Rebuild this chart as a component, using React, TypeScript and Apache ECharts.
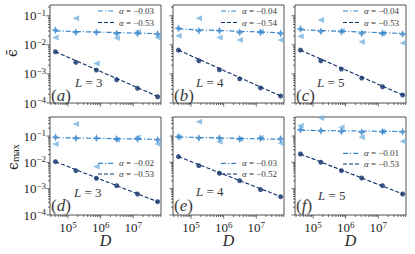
import React, { useEffect, useRef } from "react";
import * as echarts from "echarts";

// ---- data ----
const D = [4.1e4, 1.73e5, 7.4e5, 3.1e6, 1.35e7, 5.6e7];
const panelLetters = ["a", "b", "c", "d", "e", "f"];
const Lvalues = [3, 4, 5, 3, 4, 5];
const alphaMid = ["−0.03", "−0.04", "−0.04", "−0.02", "−0.03", "−0.01"];
const alphaDark = ["−0.53", "−0.54", "−0.53", "−0.53", "−0.52", "−0.53"];

const lightA = [0.018, 0.083, 0.0023, 0.0173, 0.0275, 0.018];
const midA = [0.032, 0.027, 0.027, 0.0248, 0.0248, 0.0234];
const darkA = [0.0058, 0.0025, 0.00136, 0.00063, 0.00032, 0.000164];
const fitMidA = [0.030, 0.0243];
const fitDarkA = [0.0058, 0.000168];

const lightB = [0.0206, 0.083, 0.018, 0.0146, 0.028, 0.0146];
const midB = [0.0369, 0.0306, 0.0306, 0.0269, 0.0269, 0.0248];
const darkB = [0.0066, 0.00284, 0.00139, 0.00068, 0.00033, 0.000174];
const fitMidB = [0.035, 0.0262];
const fitDarkB = [0.0066, 0.000174];

const lightC = [0.0196, 0.071, 0.0306, 0.0128, 0.025, 0.0115];
const midC = [0.0349, 0.0291, 0.0282, 0.0248, 0.0248, 0.0234];
const darkC = [0.0066, 0.00284, 0.00147, 0.00072, 0.000363, 0.000188];
const fitMidC = [0.033, 0.0247];
const fitDarkC = [0.0066, 0.000188];

const lightD = [0.05, 0.288, 0.0069, 0.072, 0.088, 0.05];
const midD = [0.09, 0.082, 0.082, 0.078, 0.078, 0.073];
const darkD = [0.0106, 0.00483, 0.00248, 0.0013, 0.000628, 0.00032];
const fitMidD = [0.087, 0.075];
const fitDarkD = [0.0106, 0.00032];

const lightE = [0.09, 0.35, 0.061, 0.075, 0.085, 0.053];
const midE = [0.095, 0.085, 0.085, 0.078, 0.082, 0.078];
const darkE = [0.0165, 0.0075, 0.00386, 0.00201, 0.00092, 0.000497];
const fitMidE = [0.092, 0.075];
const fitDarkE = [0.0165, 0.0005];

const lightF = [0.248, 0.49, 0.216, 0.09, 0.15, 0.063];
const midF = [0.175, 0.16, 0.151, 0.139, 0.147, 0.147];
const darkF = [0.0208, 0.0101, 0.00483, 0.00255, 0.0013, 0.000628];
const fitMidF = [0.165, 0.148];
const fitDarkF = [0.0208, 0.00063];

const xRange = [27900, 7.1e7];
const yRangeTop = [1e-4, 0.235];
const yRangeBottom = [1e-4, 0.53];

const lights = [lightA, lightB, lightC, lightD, lightE, lightF];
const mids = [midA, midB, midC, midD, midE, midF];
const darks = [darkA, darkB, darkC, darkD, darkE, darkF];
const fitMids = [fitMidA, fitMidB, fitMidC, fitMidD, fitMidE, fitMidF];
const fitDarks = [fitDarkA, fitDarkB, fitDarkC, fitDarkD, fitDarkE, fitDarkF];

// ---- style / layout ----
const LIGHT = "#74b3e1";
const MID = "#3886cb";
const DARK = "#0d2e69";
const AXIS = "#262626";
const LEG = "#3a3a3a";
const SERIF = "'Liberation Serif', 'DejaVu Serif', serif";
const GRID_LEFT = [50, 173, 295];
const GRID_TOP = [5, 117];
const GRID_W = 111;
const GRID_H = 98;
const PLUS = "path://M5,0L6.6,3.4L10,5L6.6,6.6L5,10L3.4,6.6L0,5L3.4,3.4Z";

const legendRows = [
  [6, 17.5], [6, 17.5], [6, 17.5], [46.3, 57], [46.3, 57], [36.3, 47],
];
const labelPos = [
  { lx: 25, ly: 77, py: 90 }, { lx: 23, ly: 77, py: 90 }, { lx: 22, ly: 77, py: 90 },
  { lx: 24, ly: 75, py: 88 }, { lx: 23, ly: 74, py: 88 }, { lx: 23, ly: 78, py: 88 },
];

function supLabel(v: number) {
  const e = Math.round(Math.log10(v));
  const s = e < 0 ? "−" + -e : String(e);
  return `{b|10}{s|${s}}`;
}

const labelRich = {
  b: { fontSize: 13, fontFamily: SERIF, color: AXIS, lineHeight: 15 },
  s: { fontSize: 9, fontFamily: SERIF, color: AXIS, verticalAlign: "top", lineHeight: 15 },
};

function tickData(xr: number[], yr: number[]) {
  const out: number[][] = [];
  for (let k = -6; k <= 9; k++) {
    for (let m = 1; m <= 9; m++) {
      const v = m * Math.pow(10, k);
      if (v >= xr[0] * 0.9999 && v <= xr[1] * 1.0001) out.push([v, yr[0], m === 1 ? 0 : 1]);
      if (v >= yr[0] * 0.9999 && v <= yr[1] * 1.0001) out.push([xr[0], v, m === 1 ? 2 : 3]);
    }
  }
  return out;
}

export default function App() {
  const ref = useRef<HTMLDivElement>(null);
  useEffect(() => {
    if (!ref.current) return;
    const chart = echarts.init(ref.current, null, { renderer: "svg" });
    const grids: any[] = [];
    const xAxes: any[] = [];
    const yAxes: any[] = [];
    const series: any[] = [];
    const graphic: any[] = [];

    for (let i = 0; i < 6; i++) {
      const col = i % 3;
      const row = Math.floor(i / 3);
      const left = GRID_LEFT[col];
      const top = GRID_TOP[row];
      const yr = row === 0 ? yRangeTop : yRangeBottom;
      grids.push({
        left, top, width: GRID_W, height: GRID_H,
        show: true, borderColor: AXIS, borderWidth: 0.8, backgroundColor: "transparent",
        containLabel: false,
      });
      xAxes.push({
        type: "log", gridIndex: i, logBase: 10, min: xRange[0], max: xRange[1],
        axisLine: { show: false }, axisTick: { show: false }, splitLine: { show: false },
        axisLabel: {
          show: row === 1, showMinLabel: false, showMaxLabel: false, margin: 5,
          formatter: supLabel, rich: labelRich,
        },
      });
      yAxes.push({
        type: "log", gridIndex: i, logBase: 10, min: yr[0], max: yr[1],
        axisLine: { show: false }, axisTick: { show: false }, splitLine: { show: false },
        axisLabel: {
          show: col === 0, showMinLabel: true, showMaxLabel: false, margin: 4,
          formatter: supLabel, rich: labelRich,
        },
      });

      series.push({
        type: "scatter", xAxisIndex: i, yAxisIndex: i, symbol: "triangle", symbolRotate: 90,
        symbolSize: [6, 6.5], itemStyle: { color: LIGHT }, data: D.map((d, j) => [d, lights[i][j]]), z: 2,
      });
      series.push({
        type: "scatter", xAxisIndex: i, yAxisIndex: i, symbol: PLUS,
        symbolSize: 8, itemStyle: { color: MID }, data: D.map((d, j) => [d, mids[i][j]]), z: 3,
      });
      series.push({
        type: "line", xAxisIndex: i, yAxisIndex: i, symbol: "none",
        lineStyle: { color: MID, width: 1.2, type: [5, 2, 1.2, 2] },
        data: [[D[0], fitMids[i][0]], [D[D.length - 1], fitMids[i][1]]], z: 4,
      });
      series.push({
        type: "scatter", xAxisIndex: i, yAxisIndex: i, symbol: "circle",
        symbolSize: 5, itemStyle: { color: DARK }, data: D.map((d, j) => [d, darks[i][j]]), z: 5,
      });
      series.push({
        type: "line", xAxisIndex: i, yAxisIndex: i, symbol: "none",
        lineStyle: { color: DARK, width: 1.1, type: [4, 2] },
        data: [[D[0], fitDarks[i][0]], [D[D.length - 1], fitDarks[i][1]]], z: 6,
      });
      series.push({
        type: "custom", xAxisIndex: i, yAxisIndex: i, clip: false, silent: true,
        dimensions: ["x", "y", "k"], encode: { x: 0, y: 1 },
        data: tickData(xRange, yr),
        renderItem: (params: any, api: any) => {
          const xv = api.value(0), yv = api.value(1), k = api.value(2);
          const p = api.coord([xv, yv]);
          const len = k === 0 || k === 2 ? 3.5 : 2;
          const shape = k < 2
            ? { x1: p[0], y1: p[1], x2: p[0], y2: p[1] + len }
            : { x1: p[0] - len, y1: p[1], x2: p[0], y2: p[1] };
          return { type: "line", shape, style: { stroke: AXIS, lineWidth: 0.7 } };
        },
        z: 1,
      });

      // legend
      const [r1, r2] = legendRows[i];
      const lx = left + 48;
      graphic.push({
        type: "line", shape: { x1: lx, y1: top + r1, x2: lx + 17, y2: top + r1 },
        style: { stroke: MID, lineWidth: 1.2, lineDash: [5, 2, 1.2, 2] },
      });
      graphic.push({
        type: "line", shape: { x1: lx, y1: top + r2, x2: lx + 17, y2: top + r2 },
        style: { stroke: DARK, lineWidth: 1.1, lineDash: [4, 2] },
      });
      const legTextStyle = (txt: string) => ({
        text: `{i|α} = ${txt}`, fontFamily: SERIF, fontSize: 9, fill: LEG,
        verticalAlign: "middle", align: "left",
        rich: { i: { fontStyle: "italic", fontFamily: SERIF, fontSize: 9, fill: LEG } },
      });
      graphic.push({ type: "text", x: lx + 21, y: top + r1, style: legTextStyle(alphaMid[i]) });
      graphic.push({ type: "text", x: lx + 21, y: top + r2, style: legTextStyle(alphaDark[i]) });

      // L label & panel label
      const lp = labelPos[i];
      graphic.push({
        type: "text", x: left + lp.lx, y: top + lp.ly,
        style: {
          text: `{i|L} = ${Lvalues[i]}`, fontFamily: SERIF, fontSize: 13, fill: LEG,
          verticalAlign: "middle", align: "left",
          rich: { i: { fontStyle: "italic", fontFamily: SERIF, fontSize: 13, fill: LEG } },
        },
      });
      graphic.push({
        type: "text", x: left + 1, y: top + lp.py,
        style: {
          text: `({i|${panelLetters[i]}})`, fontFamily: SERIF, fontSize: 17, fill: LEG,
          verticalAlign: "middle", align: "left",
          rich: { i: { fontStyle: "italic", fontFamily: SERIF, fontSize: 17, fill: LEG } },
        },
      });
      if (row === 1) {
        graphic.push({
          type: "text", x: left + GRID_W / 2, y: 240,
          style: {
            text: "D", fontFamily: SERIF, fontStyle: "italic", fontSize: 16, fill: AXIS,
            align: "center", verticalAlign: "middle",
          },
        });
      }
    }

    graphic.push({
      type: "text", x: 12, y: 53, rotation: Math.PI / 2,
      style: {
        text: "ϵ̄", fontFamily: "'DejaVu Serif', serif", fontSize: 14, fill: AXIS,
        align: "center", verticalAlign: "middle",
      },
    });
    graphic.push({
      type: "text", x: 13, y: 157, rotation: Math.PI / 2,
      style: {
        text: "{e|ϵ}{m|max}", fill: AXIS, align: "center", verticalAlign: "middle",
        rich: {
          e: { fontFamily: "'DejaVu Serif', serif", fontSize: 14, fill: AXIS, lineHeight: 16 },
          m: { fontFamily: SERIF, fontSize: 10.5, fill: AXIS, verticalAlign: "bottom", lineHeight: 16 },
        },
      },
    });

    chart.setOption({
      animation: false,
      backgroundColor: "#fff",
      grid: grids,
      xAxis: xAxes,
      yAxis: yAxes,
      series,
      graphic,
    });
    return () => chart.dispose();
  }, []);
  return (
    <div
      ref={ref}
      style={{ position: "fixed", left: 0, top: 0, width: 415, height: 254 }}
    />
  );
}
